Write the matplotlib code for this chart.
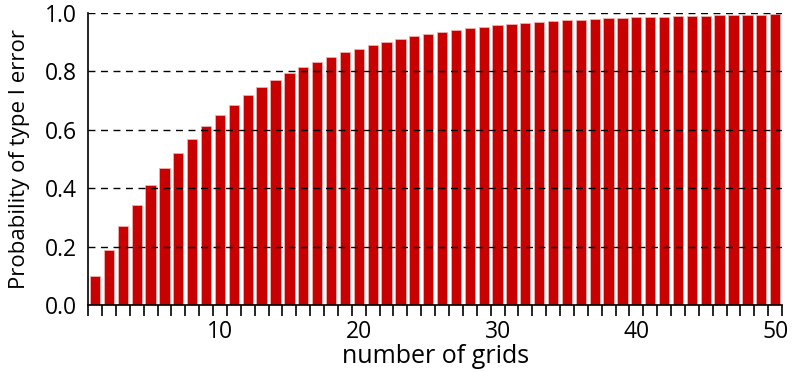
import matplotlib.pyplot as plt
from matplotlib.ticker import MultipleLocator

plt.rcParams['font.family'] = ['Open Sans', 'DejaVu Sans']

grids = list(range(1, 51))
probError = [0.100, 0.190, 0.271, 0.344, 0.410, 0.469, 0.522, 0.570, 0.613, 0.651,
             0.686, 0.718, 0.746, 0.771, 0.794, 0.815, 0.833, 0.850, 0.865, 0.878,
             0.891, 0.902, 0.911, 0.920, 0.928, 0.935, 0.942, 0.948, 0.953, 0.958,
             0.962, 0.966, 0.969, 0.972, 0.975, 0.977, 0.980, 0.982, 0.984, 0.985,
             0.987, 0.988, 0.989, 0.990, 0.991, 0.992, 0.993, 0.994, 0.994, 0.995]
xTicks = [10, 20, 30, 40, 50]
yTicks = [0.0, 0.2, 0.4, 0.6, 0.8, 1.0]

fig = plt.figure(figsize=(7.94, 3.72), dpi=100)
ax = fig.add_axes([0.111, 0.180, 0.874, 0.785])

ax.bar(grids, probError, width=0.74, color='#c80000', edgecolor='#f0b0b0', linewidth=0.6, zorder=2)

ax.set_xlim(0.5, 50.5)
ax.set_ylim(0, 1.0)
ax.set_xticks(xTicks)
ax.xaxis.set_minor_locator(MultipleLocator(1, offset=0.5))
ax.tick_params(axis='x', which='major', length=0, labelsize=16.5, pad=11)
ax.tick_params(axis='x', which='minor', length=8, width=1.2, direction='out')
ax.set_yticks(yTicks)
ax.set_yticklabels([f"{v:.1f}" for v in yTicks])
ax.tick_params(axis='y', length=0, labelsize=16.5, pad=8)

ax.yaxis.grid(True, linestyle=(0, (5, 4)), color='black', linewidth=1.0, zorder=3)
ax.set_axisbelow(False)
for s in ['top', 'right']:
    ax.spines[s].set_visible(False)
ax.spines['left'].set_linewidth(1.2)
ax.spines['bottom'].set_linewidth(1.2)

ax.set_xlabel("number of grids", fontsize=18, labelpad=0)
ax.set_ylabel("Probability of type I error", fontsize=16, labelpad=11)

fig.savefig('out.png', dpi=100)
